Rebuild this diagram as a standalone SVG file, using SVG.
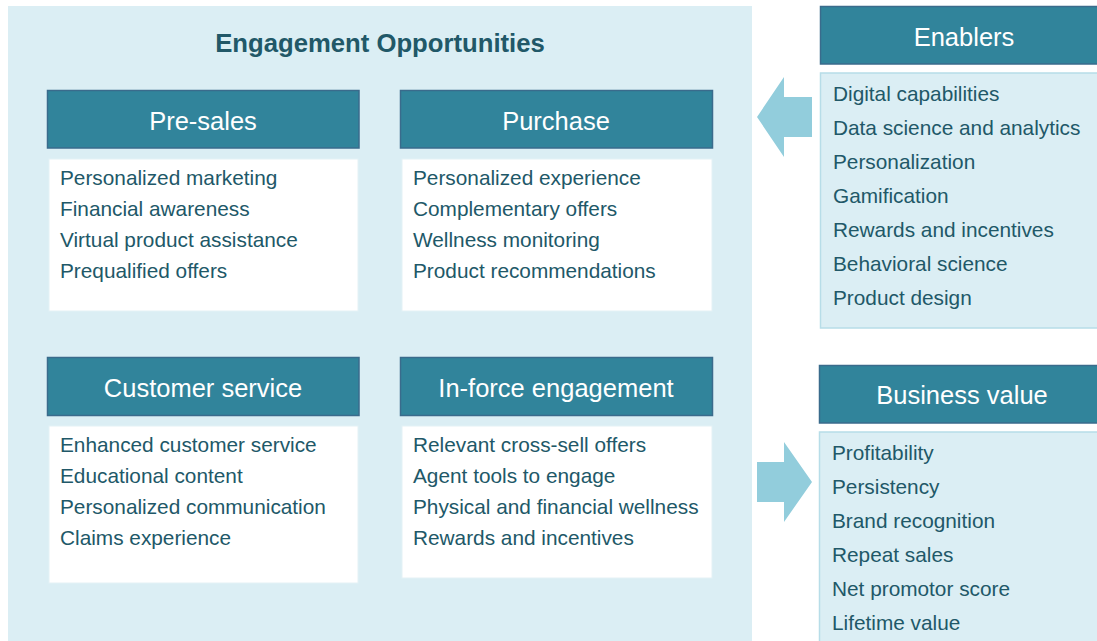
<svg xmlns="http://www.w3.org/2000/svg" width="1097" height="641" viewBox="0 0 1097 641">
<style>
text{font-family:"Liberation Sans",Arial,sans-serif}
.panel{fill:#dbeef4}
.hdr{fill:#31849b;stroke:#3a6b8c;stroke-width:1.5}
.body{fill:#ffffff;stroke:#e4f1f5;stroke-width:1}
.lbody{fill:#dbeef4;stroke:#b7dde8;stroke-width:1.5}
.ht{fill:#ffffff;font-size:25.5px;text-anchor:middle}
.it{fill:#215868;font-size:20.8px}
.title{fill:#215868;font-size:25.7px;font-weight:bold;text-anchor:middle}
.arrow{fill:#92cddc}
</style>
<rect width="1097" height="641" fill="#ffffff"/>
<g id="engagement-panel">
<rect class="panel" x="8" y="6" width="744" height="640"/>
<text class="title" x="380" y="52">Engagement Opportunities</text>
</g>
<g id="pre-sales">
<rect class="hdr" x="47.5" y="90.5" width="311.5" height="57.5"/>
<text class="ht" x="203" y="130">Pre-sales</text>
<rect class="body" x="49" y="159" width="309" height="152"/>
<text class="it" x="60" y="185">Personalized marketing</text>
<text class="it" x="60" y="216">Financial awareness</text>
<text class="it" x="60" y="247">Virtual product assistance</text>
<text class="it" x="60" y="278">Prequalified offers</text>
</g>
<g id="purchase">
<rect class="hdr" x="400.5" y="90.5" width="312" height="57.5"/>
<text class="ht" x="556" y="130">Purchase</text>
<rect class="body" x="402" y="159" width="310" height="152"/>
<text class="it" x="413" y="185">Personalized experience</text>
<text class="it" x="413" y="216">Complementary offers</text>
<text class="it" x="413" y="247">Wellness monitoring</text>
<text class="it" x="413" y="278">Product recommendations</text>
</g>
<g id="customer-service">
<rect class="hdr" x="47.5" y="357.5" width="311.5" height="58"/>
<text class="ht" x="203" y="397">Customer service</text>
<rect class="body" x="49" y="426" width="309" height="157"/>
<text class="it" x="60" y="452">Enhanced customer service</text>
<text class="it" x="60" y="483">Educational content</text>
<text class="it" x="60" y="514">Personalized communication</text>
<text class="it" x="60" y="545">Claims experience</text>
</g>
<g id="in-force-engagement">
<rect class="hdr" x="400.5" y="357.5" width="312" height="58"/>
<text class="ht" x="556" y="397">In-force engagement</text>
<rect class="body" x="402" y="426" width="310" height="152"/>
<text class="it" x="413" y="452">Relevant cross-sell offers</text>
<text class="it" x="413" y="483">Agent tools to engage</text>
<text class="it" x="413" y="514">Physical and financial wellness</text>
<text class="it" x="413" y="545">Rewards and incentives</text>
</g>
<g id="enablers">
<rect class="hdr" x="820.5" y="6.5" width="280" height="57.5"/>
<text class="ht" x="964" y="46">Enablers</text>
<rect class="lbody" x="820.5" y="73" width="280" height="255"/>
<text class="it" x="833" y="101">Digital capabilities</text>
<text class="it" x="833" y="135">Data science and analytics</text>
<text class="it" x="833" y="169">Personalization</text>
<text class="it" x="833" y="203">Gamification</text>
<text class="it" x="833" y="237">Rewards and incentives</text>
<text class="it" x="833" y="271">Behavioral science</text>
<text class="it" x="833" y="305">Product design</text>
</g>
<g id="business-value">
<rect class="hdr" x="819.5" y="365.5" width="281" height="57.5"/>
<text class="ht" x="962" y="404">Business value</text>
<rect class="lbody" x="819.5" y="432" width="281" height="215"/>
<text class="it" x="832" y="460">Profitability</text>
<text class="it" x="832" y="494">Persistency</text>
<text class="it" x="832" y="528">Brand recognition</text>
<text class="it" x="832" y="562">Repeat sales</text>
<text class="it" x="832" y="596">Net promotor score</text>
<text class="it" x="832" y="630">Lifetime value</text>
</g>
<g id="connectors">
<polygon class="arrow" points="757,117 784,77 784,97 812,97 812,137 784,137 784,157"/>
<polygon class="arrow" points="757,462 784,462 784,442 812,482 784,522 784,502 757,502"/>
</g>
</svg>
